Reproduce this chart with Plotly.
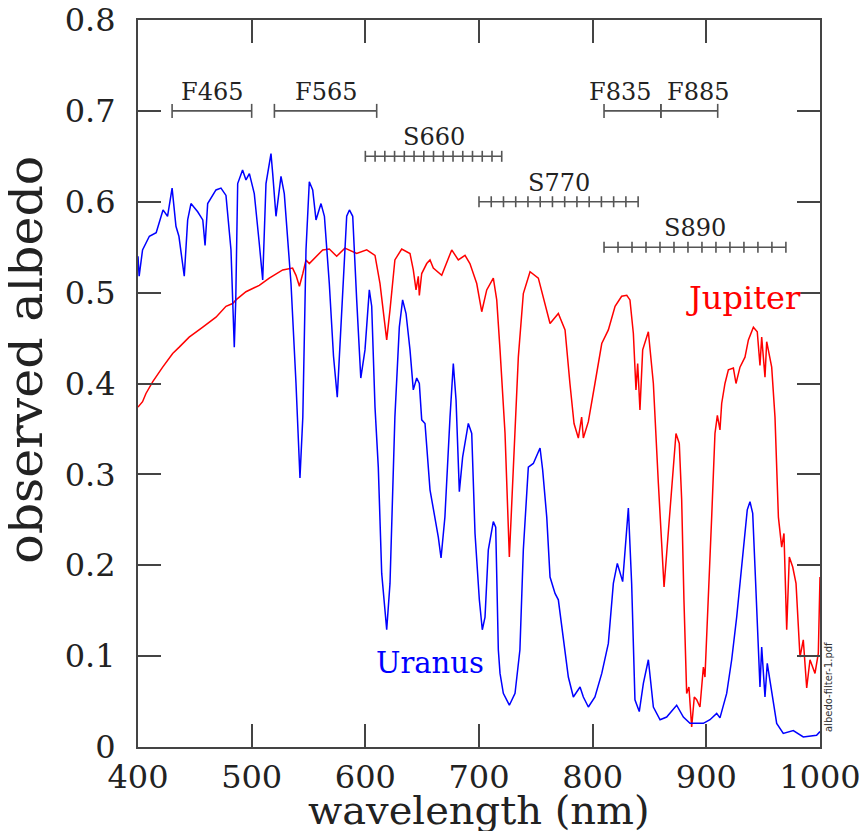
import plotly.graph_objects as go

# ---------------- data ----------------
jupiter_wl = [400, 404, 407, 413, 421.7, 430.5, 436.3, 445, 457, 468.6, 477.4, 483.3, 486.2, 495,
              506.7, 515.5, 527.3, 536, 539, 542, 545, 547.8, 550.7, 556.6, 562.5, 568.3, 574.8,
              582, 592.4, 601.2, 608.5, 612.9, 615.8, 618.8, 621.7, 626, 632, 639.3, 642.2, 644.6,
              646.6, 647.5, 649.6, 654, 656.9, 659.8, 667.2, 676, 681.8, 687.7, 692, 698, 702.4,
              706.8, 712.6, 715.6, 718.5, 722.9, 726.7, 730.2, 734.6, 739, 744.9, 752.2, 758, 762.5,
              769.8, 775.7, 780, 783.6, 787.4, 790.3, 791.8, 796.2, 802, 808, 813.8, 819.7, 825.5,
              830, 832.8, 835.8, 838.1, 839.6, 841.6, 844, 849, 853.4, 857.8, 860.7, 862.8, 865.1,
              869.5, 873.3, 876.2, 878.3, 880.3, 882.7, 884.7, 887.1, 889.4, 891.5, 894.4, 897.4,
              898.8, 901.8, 904.7, 907.6, 909.7, 912, 913.5, 916.4, 919.4, 923.8, 926.1, 929.6, 934,
              937, 941.4, 944.8, 947.2, 948.7, 951.6, 953.1, 957.5, 960.4, 963.4, 966.3, 968.3,
              970.7, 973, 976, 978.9, 982.4, 985.3, 988.3, 991.2, 995.6, 998.5, 1000]
jupiter_albedo = [0.374, 0.380, 0.389, 0.402, 0.418, 0.433, 0.440, 0.451, 0.462, 0.473, 0.485, 0.488,
                  0.492, 0.501, 0.508, 0.516, 0.525, 0.527, 0.519, 0.507, 0.521, 0.536, 0.532, 0.540,
                  0.547, 0.548, 0.540, 0.549, 0.543, 0.547, 0.541, 0.510, 0.477, 0.448, 0.481, 0.536,
                  0.548, 0.543, 0.525, 0.503, 0.518, 0.497, 0.521, 0.532, 0.536, 0.527, 0.519, 0.547,
                  0.536, 0.541, 0.532, 0.510, 0.479, 0.503, 0.516, 0.492, 0.437, 0.345, 0.209, 0.308,
                  0.429, 0.499, 0.523, 0.516, 0.488, 0.466, 0.477, 0.459, 0.400, 0.356, 0.340, 0.363,
                  0.340, 0.358, 0.400, 0.444, 0.459, 0.485, 0.496, 0.497, 0.492, 0.455, 0.393, 0.422,
                  0.371, 0.437, 0.457, 0.400, 0.290, 0.217, 0.176, 0.213, 0.279, 0.345, 0.334, 0.272,
                  0.162, 0.059, 0.066, 0.022, 0.055, 0.052, 0.044, 0.088, 0.077, 0.162, 0.253, 0.345,
                  0.365, 0.349, 0.378, 0.400, 0.415, 0.417, 0.400, 0.418, 0.429, 0.448, 0.462, 0.457,
                  0.420, 0.451, 0.407, 0.446, 0.418, 0.363, 0.253, 0.220, 0.235, 0.129, 0.209, 0.198,
                  0.180, 0.099, 0.118, 0.065, 0.096, 0.081, 0.103, 0.187]

uranus_wl = [400, 401, 404, 410, 416, 422, 426, 430, 433.4, 436, 440.7, 443.7, 446.6, 452.5, 457, 459,
             461.3, 468.6, 473, 477.4, 481.8, 484.7, 486, 487.7, 492, 495, 498, 502.3, 506.7, 509.7,
             512.6, 515.5, 517, 518.5, 521.4, 525.8, 528.7, 534.6, 539, 542.5, 545, 547.8, 550.7,
             553.7, 556.6, 561, 564, 568.3, 572, 575.3, 579, 583.6, 586, 588.9, 592.4, 596, 599.7,
             603.5, 605.6, 608.5, 611.4, 614.4, 618.8, 621.7, 626, 629.9, 632.8, 635.8, 639.3, 642.2,
             645.2, 647.5, 649.6, 652.5, 656.9, 661.3, 664.2, 666.6, 670, 674.5, 677.4, 679.8, 682.7,
             685.6, 687.7, 690.6, 693.6, 696.5, 700.3, 702.9, 705.3, 708.2, 712.6, 714.7, 717, 718.5,
             721.4, 726.7, 731.7, 736, 739, 743.4, 747.8, 753.7, 756, 759.6, 762.5, 766.9, 769.8,
             774.2, 778.6, 783, 788.9, 791.8, 796.2, 802, 808, 813.8, 818.2, 821.7, 826.4, 831.4,
             834.3, 837.2, 841, 844.6, 849, 853.4, 859.3, 865.1, 873.9, 879.8, 885.6, 897.4, 903.2,
             909.1, 912, 917.9, 922.3, 926.7, 929.6, 934, 936, 938.4, 940.8, 942.8, 944.8, 947.2,
             948.7, 951.6, 953.6, 957.5, 961.9, 967.7, 976.5, 985.3, 997, 1000]
uranus_albedo = [0.540, 0.518, 0.547, 0.562, 0.566, 0.591, 0.584, 0.615, 0.573, 0.562, 0.518, 0.580,
                 0.598, 0.589, 0.580, 0.552, 0.598, 0.613, 0.615, 0.607, 0.547, 0.440, 0.492, 0.620,
                 0.635, 0.624, 0.631, 0.609, 0.554, 0.514, 0.620, 0.639, 0.653, 0.631, 0.584, 0.628,
                 0.609, 0.510, 0.400, 0.296, 0.363, 0.547, 0.622, 0.613, 0.580, 0.598, 0.584, 0.510,
                 0.430, 0.385, 0.473, 0.584, 0.591, 0.584, 0.492, 0.406, 0.437, 0.503, 0.485, 0.374,
                 0.308, 0.191, 0.129, 0.180, 0.363, 0.462, 0.492, 0.477, 0.437, 0.393, 0.406, 0.400,
                 0.360, 0.356, 0.283, 0.253, 0.231, 0.208, 0.253, 0.363, 0.422, 0.382, 0.281, 0.319,
                 0.334, 0.356, 0.345, 0.235, 0.162, 0.129, 0.143, 0.217, 0.248, 0.242, 0.107, 0.081,
                 0.059, 0.046, 0.059, 0.107, 0.217, 0.308, 0.312, 0.329, 0.305, 0.253, 0.187, 0.169,
                 0.162, 0.121, 0.077, 0.055, 0.066, 0.055, 0.044, 0.055, 0.081, 0.114, 0.180, 0.202,
                 0.182, 0.263, 0.180, 0.052, 0.039, 0.070, 0.096, 0.044, 0.030, 0.033, 0.046, 0.033,
                 0.026, 0.026, 0.030, 0.037, 0.032, 0.059, 0.096, 0.143, 0.180, 0.235, 0.261, 0.270,
                 0.257, 0.198, 0.143, 0.066, 0.110, 0.055, 0.092, 0.059, 0.026, 0.015, 0.018, 0.011,
                 0.013, 0.017]

filter_names = ["F465", "F565", "F835", "F885", "S660", "S770", "S890"]
filter_lo = [430, 520, 810, 860, 600, 700, 810]
filter_hi = [500, 610, 860, 910, 720, 840, 970]
filter_level = [0.70, 0.70, 0.70, 0.70, 0.65, 0.60, 0.55]
filter_steps = [1, 1, 1, 1, 14, 13, 13]
filter_label_x = [465, 565, 824, 893, 660, 770, 890]

x_tick_vals = [400, 500, 600, 700, 800, 900, 1000]
y_tick_vals = [0, 0.1, 0.2, 0.3, 0.4, 0.5, 0.6, 0.7, 0.8]
y_tick_text = ["0", "0.1", "0.2", "0.3", "0.4", "0.5", "0.6", "0.7", "0.8"]

# ---------------- styling ----------------
SERIF = "DejaVu Serif"
AXIS_COLOR = "#444444"
BAR_COLOR = "#555555"
PX_PER_UNIT = 727 / 0.8  # plot height in px per albedo unit

fig = go.Figure()

# filter bars
for name, lo, hi, lev, n in zip(filter_names, filter_lo, filter_hi, filter_level, filter_steps):
    half = (7 if n == 1 else 5.5) / PX_PER_UNIT
    xs, ys = [lo, hi, None], [lev, lev, None]
    for k in range(n + 1):
        xv = lo + (hi - lo) * k / n
        xs += [xv, xv, None]
        ys += [lev - half, lev + half, None]
    fig.add_trace(go.Scatter(x=xs, y=ys, mode="lines", hoverinfo="skip",
                             line=dict(color=BAR_COLOR, width=1.6), showlegend=False))

fig.add_trace(go.Scatter(x=jupiter_wl, y=jupiter_albedo, mode="lines", name="Jupiter",
                         line=dict(color="#ff0000", width=1.5), showlegend=False))
fig.add_trace(go.Scatter(x=uranus_wl, y=uranus_albedo, mode="lines", name="Uranus",
                         line=dict(color="#0000ff", width=1.5), showlegend=False))

annotations = []
for name, lx, lev in zip(filter_names, filter_label_x, filter_level):
    annotations.append(dict(x=lx, y=lev, xref="x", yref="y", text=name, showarrow=False,
                            yanchor="bottom", xanchor="center", yshift=3,
                            font=dict(family=SERIF, size=24, color="#222222")))

annotations += [
    dict(x=933, y=0.494, xref="x", yref="y", text="Jupiter", showarrow=False,
         font=dict(family=SERIF, size=32, color="#ff0000")),
    dict(x=657, y=0.092, xref="x", yref="y", text="Uranus", showarrow=False,
         font=dict(family=SERIF, size=29, color="#0000ff")),
    dict(x=0, y=0.426, xref="paper", yref="y", text="observed albedo", showarrow=False,
         textangle=-90, xanchor="center", yanchor="middle", xshift=-112,
         font=dict(family=SERIF, size=49, color="#222222")),
    dict(x=700, y=0, xref="x", yref="paper", text="wavelength (nm)", showarrow=False,
         xanchor="center", yanchor="middle", yshift=-63,
         font=dict(family=SERIF, size=40, color="#222222")),
    dict(x=1, y=0.066, xref="paper", yref="y", text="albedo-filter-1.pdf", showarrow=False,
         textangle=-90, xanchor="center", yanchor="middle", xshift=8,
         font=dict(family="DejaVu Sans", size=10, color="#333333")),
]

# the page body adds an 8 px margin, so the figure is 16 px smaller than the window
fig.update_layout(
    width=851, height=823,
    margin=dict(l=130, r=39, t=12, b=84, autoexpand=False),
    paper_bgcolor="white", plot_bgcolor="white",
    annotations=annotations,
    showlegend=False,
)
fig.update_xaxes(range=[400, 1000], tickvals=x_tick_vals, ticks="inside", ticklen=23,
                 tickwidth=1.5, tickcolor=AXIS_COLOR, showline=True, linecolor=AXIS_COLOR,
                 linewidth=2, mirror="ticks", showgrid=False, zeroline=False,
                 ticklabelstandoff=1, automargin=False, ticklabeloverflow="allow",
                 tickfont=dict(family=SERIF, size=32, color="#222222"))
fig.update_yaxes(range=[0, 0.8], tickvals=y_tick_vals, ticktext=y_tick_text, ticks="inside",
                 ticklen=23, tickwidth=1.5, tickcolor=AXIS_COLOR, showline=True,
                 linecolor=AXIS_COLOR, linewidth=2, mirror="ticks", showgrid=False,
                 zeroline=False, ticklabelstandoff=14, automargin=False,
                 ticklabeloverflow="allow",
                 tickfont=dict(family=SERIF, size=32, color="#222222"))

fig.write_html("out.html")
